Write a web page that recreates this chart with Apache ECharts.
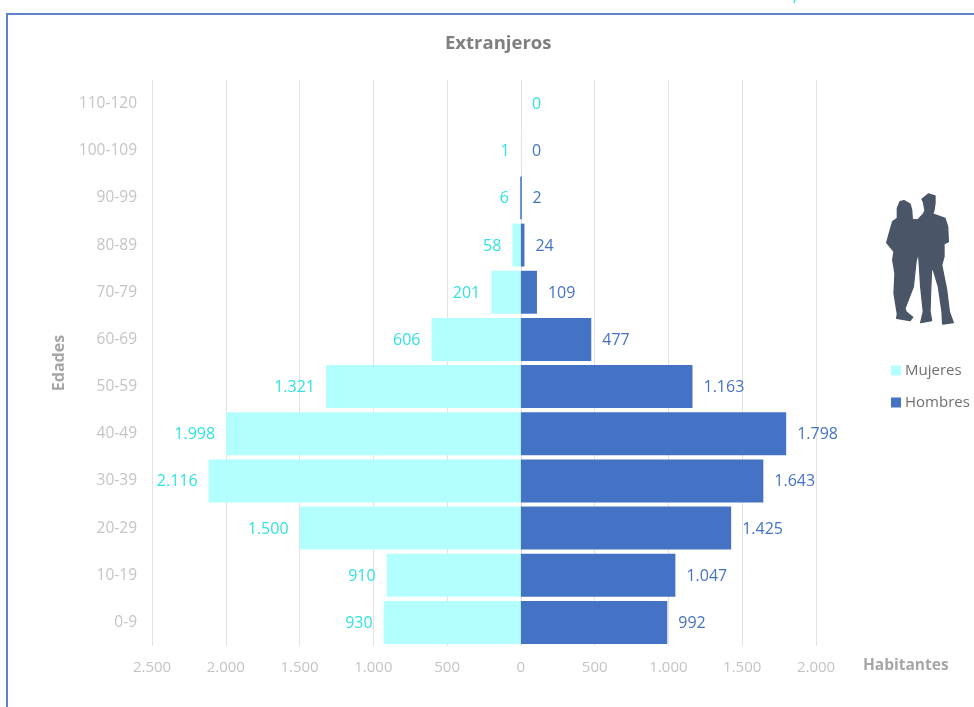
<!DOCTYPE html>
<html><head><meta charset="utf-8">
<style>html,body{margin:0;padding:0;background:#fff}#c{width:974px;height:707px}</style>
<script src="https://cdn.jsdelivr.net/npm/echarts@6/dist/echarts.min.js"></script>
</head><body><div id="c"></div>
<script>
const categories = ['0-9','10-19','20-29','30-39','40-49','50-59','60-69','70-79','80-89','90-99','100-109','110-120'];
const mujeres = [930,910,1500,2116,1998,1321,606,201,58,6,1,null];
const hombres = [992,1047,1425,1643,1798,1163,477,109,24,2,0,0];
const FONT = '"Open Sans","Noto Sans",sans-serif';
const CYAN = '#2FE3E3', BLUE = '#4472C4', PALE = '#B3FFFF';
const fmt = v => Math.abs(v).toString().replace(/\B(?=(\d{3})+$)/g, '.');
const womanOutline = [[72,32],[90,42],[95,60],[97,88],[112,90],[112,200],[108,215],[100,290],[75,355],[78,365],[98,382],[90,392],[50,385],[52,372],[42,310],[45,250],[38,210],[42,185],[20,158],[32,115],[38,95],[52,85],[52,55],[60,35]];
const manOutline = [[145,12],[165,18],[165,40],[162,60],[158,72],[195,85],[203,110],[205,155],[192,162],[192,200],[185,225],[200,300],[208,365],[220,398],[188,402],[186,365],[175,290],[160,240],[155,235],[152,300],[150,365],[155,392],[122,398],[130,365],[122,290],[118,225],[115,180],[105,150],[108,95],[130,72],[135,62],[130,35],[126,28]];
const SIL = {fill:'#4A5568',stroke:'#4A5568',lineWidth:4,lineJoin:'round'};
const chart = echarts.init(document.getElementById('c'));
chart.setOption({
  animation:false,
  textStyle:{fontFamily:FONT},
  title:{text:'Extranjeros',left:440,top:29,itemGap:0,
    textStyle:{fontFamily:FONT,fontSize:18.5,fontWeight:'bold',color:'#7F7F7F'}},
  legend:{orient:'vertical',left:886,top:358,itemWidth:10,itemHeight:10,itemGap:17,icon:'rect',
    data:['Mujeres','Hombres'],
    textStyle:{fontFamily:FONT,fontSize:15,color:'#6F6F6F',padding:[0,0,0,-1]}},
  grid:{left:152,right:158,top:80,bottom:61,containLabel:false},
  xAxis:{type:'value',min:-2500,max:2000,interval:500,
    name:'Habitantes',nameLocation:'end',nameGap:47,
    nameTextStyle:{fontFamily:FONT,fontSize:15.5,fontWeight:'bold',color:'#A6A6A6',verticalAlign:'top',padding:[12,0,0,0]},
    axisLine:{show:false},axisTick:{show:false},
    axisLabel:{color:'#C4C4C4',fontSize:15,margin:14,formatter:fmt},
    splitLine:{show:true,lineStyle:{color:'#E2E2E2',width:1}}},
  yAxis:{type:'category',data:categories,
    name:'Edades',nameLocation:'middle',nameRotate:90,nameGap:81,
    nameTextStyle:{fontFamily:FONT,fontSize:16,fontWeight:'bold',color:'#A6A6A6'},
    axisLine:{show:false},axisTick:{show:false},
    axisLabel:{color:'#C4C4C4',fontSize:15.5,margin:15,padding:[0,0,2,0]}},
  series:[
    {name:'Mujeres',type:'bar',barGap:'-100%',barCategoryGap:'9%',
     itemStyle:{color:PALE},
     data:mujeres.map(v=>v===null?null:-v),
     label:{show:true,position:'left',distance:11,offset:[0,1],color:CYAN,fontSize:16,formatter:p=>fmt(p.value)}},
    {name:'Hombres',type:'bar',
     itemStyle:{color:BLUE},
     data:hombres.map((v,i)=>{
       if(i===categories.length-1) return {value:v,label:{color:CYAN}};
       if(v>0&&v<5) return {value:v,itemStyle:{borderColor:BLUE,borderWidth:1}};
       return v;
     }),
     label:{show:true,position:'right',distance:11,offset:[0,1],color:BLUE,fontSize:16,formatter:p=>fmt(p.value)}}
  ],
  graphic:[
    {type:'rect',shape:{x:7,y:14,width:1000,height:800},silent:true,z:-1,
     style:{fill:'none',stroke:'#5B83C5',lineWidth:2}},
    {type:'line',shape:{x1:795,y1:0,x2:794,y2:3},silent:true,style:{stroke:CYAN,lineWidth:1.5}},
    {type:'group',x:880,y:190,scaleX:1/3,scaleY:1/3,silent:true,children:[
      {type:'polygon',shape:{points:womanOutline},style:SIL},
      {type:'polygon',shape:{points:manOutline},style:SIL}
    ]}
  ]
});
</script></body></html>
